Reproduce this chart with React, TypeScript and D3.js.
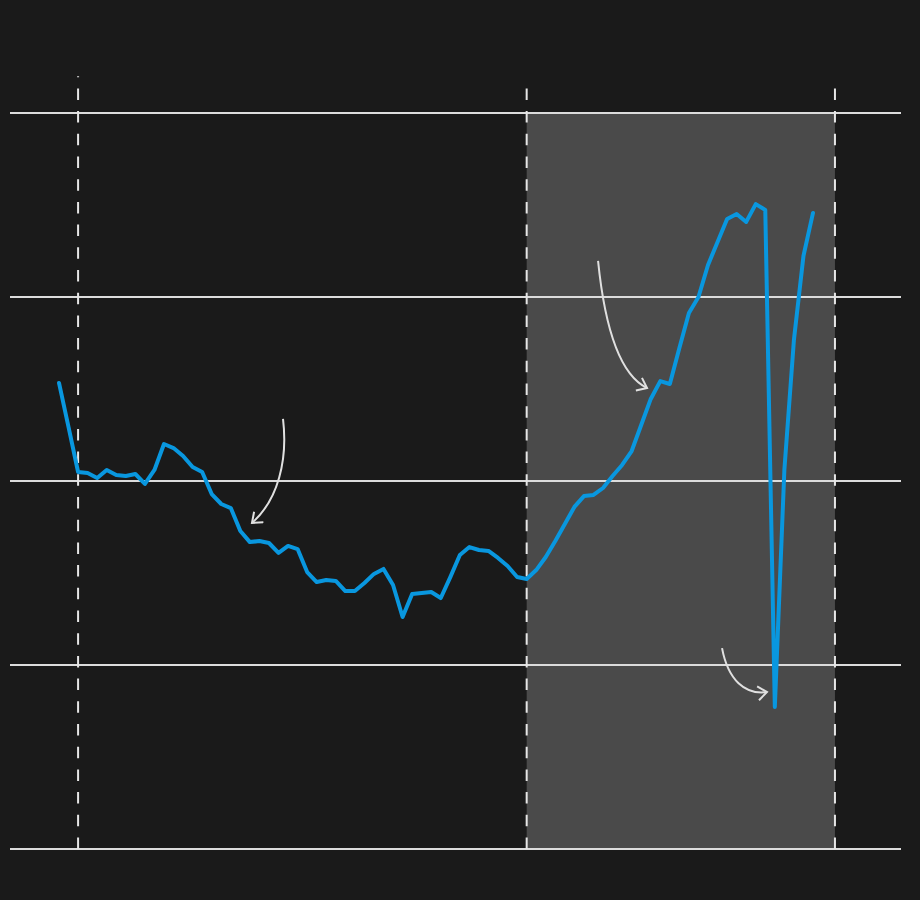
import React, { useEffect, useRef } from "react";
import * as d3 from "d3";

// series values, one per period (index 0..79)
const values = [
  2.533, 2.293, 2.049, 2.043, 2.016, 2.06, 2.033, 2.027, 2.038, 1.984,
  2.06, 2.201, 2.179, 2.136, 2.076, 2.049, 1.929, 1.875, 1.853, 1.728,
  1.668, 1.674, 1.663, 1.609, 1.647, 1.63, 1.505, 1.451, 1.462, 1.457,
  1.402, 1.402, 1.446, 1.495, 1.522, 1.435, 1.261, 1.386, 1.391, 1.397,
  1.364, 1.478, 1.598, 1.641, 1.625, 1.62, 1.582, 1.538, 1.478, 1.467,
  1.516, 1.587, 1.674, 1.766, 1.859, 1.918, 1.924, 1.962, 2.027, 2.087,
  2.163, 2.304, 2.446, 2.543, 2.527, 2.723, 2.913, 3.0, 3.174, 3.299,
  3.424, 3.451, 3.408, 3.505, 3.473, 0.772, 2.06, 2.766, 3.223, 3.457,
];

// horizontal gridlines
const yTicks = [0, 1, 2, 3, 4];

// vertical dashed reference lines (period index) and their top value
const markers = [2, 49, 81.3];
const markerTops = [4.2, 4.14, 4.14];

// shaded period
const shadeStart = 49;
const shadeEnd = 81.3;

// annotation arrows: [start, control1, control2, end] as [index, value]
const arrows = [
  [[23.47, 2.337], [23.99, 2.114], [22.95, 1.897], [20.22, 1.772]],
  [[56.48, 3.196], [57.21, 2.821], [58.78, 2.576], [61.61, 2.505]],
  [[69.47, 1.092], [70.1, 0.918], [71.88, 0.837], [74.18, 0.853]],
];

const App = () => {
  const svgRef = useRef(null);
  const width = 920;
  const height = 900;

  useEffect(() => {
    document.body.style.margin = "0";
    document.body.style.background = "#1a1a1a";

    const margin = { top: 113, right: 19, bottom: 51, left: 10 };

    const svg = d3.select(svgRef.current);
    svg.selectAll("*").remove();

    const x = d3.scaleLinear().domain([0, values.length - 1]).range([59, 813]);
    const y = d3.scaleLinear().domain([0, 4]).range([height - margin.bottom, margin.top]);

    svg.append("rect")
      .attr("width", width)
      .attr("height", height)
      .attr("fill", "#1a1a1a");

    // shaded period
    svg.append("rect")
      .attr("x", x(shadeStart))
      .attr("y", y(4))
      .attr("width", x(shadeEnd) - x(shadeStart))
      .attr("height", y(0) - y(4))
      .attr("fill", "#4a4a4a");

    // gridlines
    svg.selectAll(".grid")
      .data(yTicks)
      .join("line")
      .attr("class", "grid")
      .attr("x1", margin.left)
      .attr("x2", width - margin.right)
      .attr("y1", (d) => y(d))
      .attr("y2", (d) => y(d))
      .attr("stroke", "#dcdcdc")
      .attr("stroke-width", 2);

    // dashed reference lines, drawn bottom-up
    svg.selectAll(".marker")
      .data(markers)
      .join("line")
      .attr("class", "marker")
      .attr("x1", (d) => x(d))
      .attr("x2", (d) => x(d))
      .attr("y1", y(0))
      .attr("y2", (d, i) => y(markerTops[i]))
      .attr("stroke", "#e6e6e6")
      .attr("stroke-width", 2)
      .attr("stroke-dasharray", "11.5,11.2");

    // main line
    const line = d3.line()
      .x((d, i) => x(i))
      .y((d) => y(d));

    svg.append("path")
      .datum(values)
      .attr("d", line)
      .attr("fill", "none")
      .attr("stroke", "#0997df")
      .attr("stroke-width", 4)
      .attr("stroke-linejoin", "round")
      .attr("stroke-linecap", "round");

    // arrowhead marker
    svg.append("defs")
      .append("marker")
      .attr("id", "head")
      .attr("viewBox", "-12 -8 14 16")
      .attr("markerWidth", 14)
      .attr("markerHeight", 16)
      .attr("markerUnits", "userSpaceOnUse")
      .attr("orient", "auto")
      .append("path")
      .attr("d", "M-9,-7 L0,0 L-9,7")
      .attr("fill", "none")
      .attr("stroke", "#e0e0e0")
      .attr("stroke-width", 2);

    // annotation arrows
    svg.selectAll(".arrow")
      .data(arrows)
      .join("path")
      .attr("class", "arrow")
      .attr("d", (a) => {
        const p = d3.path();
        p.moveTo(x(a[0][0]), y(a[0][1]));
        p.bezierCurveTo(x(a[1][0]), y(a[1][1]), x(a[2][0]), y(a[2][1]), x(a[3][0]), y(a[3][1]));
        return p.toString();
      })
      .attr("fill", "none")
      .attr("stroke", "#e0e0e0")
      .attr("stroke-width", 2)
      .attr("marker-end", "url(#head)");
  }, []);

  return <svg ref={svgRef} width={width} height={height} style={{ display: "block" }} />;
};

export default App;
